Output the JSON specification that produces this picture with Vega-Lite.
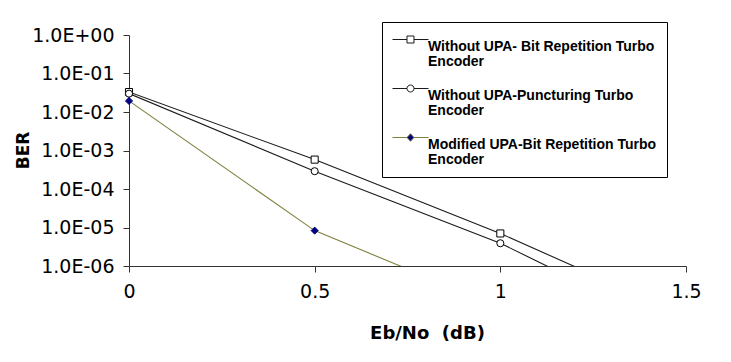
{
  "$schema": "https://vega.github.io/schema/vega-lite/v6.json",
  "autosize": {"type": "none"},
  "width": 557,
  "height": 231,
  "padding": {"left": 129, "top": 35, "right": 45, "bottom": 96},
  "background": "#ffffff",
  "config": {
    "view": {"stroke": null},
    "font": "Liberation Sans",
    "legend": {
      "orient": "none", "legendX": 253, "legendY": -13,
      "title": null,
      "strokeColor": "#000", "fillColor": "#fff", "padding": 10,
      "symbolSize": 196, "symbolStrokeWidth": 1,
      "labelFont": "Liberation Sans", "labelFontSize": 14, "labelFontWeight": "bold", "labelColor": "#000",
      "labelLimit": 400, "labelOffset": 21, "rowPadding": 12
    }
  },
  "data": {
    "values": [
      {"series": "Without UPA- Bit Repetition Turbo Encoder", "ebno": 0, "ber": 0.033},
      {"series": "Without UPA- Bit Repetition Turbo Encoder", "ebno": 0.5, "ber": 0.00058},
      {"series": "Without UPA- Bit Repetition Turbo Encoder", "ebno": 1, "ber": 0.000007},
      {"series": "Without UPA- Bit Repetition Turbo Encoder", "ebno": 1.5, "ber": 0.00000005},
      {"series": "Without UPA-Puncturing Turbo Encoder", "ebno": 0, "ber": 0.030},
      {"series": "Without UPA-Puncturing Turbo Encoder", "ebno": 0.5, "ber": 0.00029},
      {"series": "Without UPA-Puncturing Turbo Encoder", "ebno": 1, "ber": 0.0000039},
      {"series": "Without UPA-Puncturing Turbo Encoder", "ebno": 1.5, "ber": 0.000000017},
      {"series": "Modified UPA-Bit Repetition Turbo Encoder", "ebno": 0, "ber": 0.0194},
      {"series": "Modified UPA-Bit Repetition Turbo Encoder", "ebno": 0.5, "ber": 0.0000083},
      {"series": "Modified UPA-Bit Repetition Turbo Encoder", "ebno": 1, "ber": 0.000000084}
    ]
  },
  "encoding": {
    "x": {
      "field": "ebno", "type": "quantitative",
      "scale": {"domain": [0, 1.5], "nice": false, "zero": false},
      "axis": {
        "values": [0, 0.5, 1, 1.5], "grid": false, "format": "~g",
        "title": "Eb/No\u00a0\u00a0(dB)", "titleFont": "DejaVu Sans", "titleFontSize": 18, "titleFontWeight": "bold", "titleColor": "#000",
        "titleX": 298, "titleY": 67, "titleBaseline": "middle", "titleAlign": "center",
        "labelFont": "DejaVu Sans", "labelFontSize": 19, "labelColor": "#000", "labelPadding": 10,
        "labelFlush": false,
        "domainColor": "#333", "tickColor": "#333", "tickSize": 6
      }
    },
    "y": {
      "field": "ber", "type": "quantitative",
      "scale": {"type": "log", "domain": [0.000001, 1], "nice": false},
      "axis": {
        "values": [0.000001, 0.00001, 0.0001, 0.001, 0.01, 0.1, 1], "grid": false,
        "labelExpr": "'1.0E' + (datum.value < 0.5 ? '-' : '+') + (abs(round(log(datum.value)/LN10)) < 10 ? '0' : '') + abs(round(log(datum.value)/LN10))",
        "title": "BER", "titleFont": "DejaVu Sans", "titleFontSize": 17, "titleFontWeight": "bold", "titleColor": "#000",
        "titleX": -106, "titleY": 115, "titleBaseline": "middle", "titleAlign": "center", "titleAngle": -90,
        "labelFont": "DejaVu Sans", "labelFontSize": 19, "labelColor": "#000", "labelPadding": 9,
        "labelFlush": false,
        "domainColor": "#333", "tickColor": "#333", "tickSize": 6
      }
    }
  },
  "layer": [
    {
      "mark": {"type": "line", "clip": true, "strokeWidth": 1.1},
      "encoding": {
        "color": {
          "field": "series", "type": "nominal",
          "scale": {
            "domain": ["Without UPA- Bit Repetition Turbo Encoder", "Without UPA-Puncturing Turbo Encoder", "Modified UPA-Bit Repetition Turbo Encoder"],
            "range": ["#1a1a1a", "#1a1a1a", "#80803f"]
          },
          "legend": {
            "labelExpr": "[replace(datum.label, ' Encoder', ''), 'Encoder']",
            "encode": {
              "labels": {
                "update": {
                  "dy": {"value": 7.5},
                  "lineHeight": {"value": 15}
                }
              },
              "symbols": {
                "update": {
                  "shape": {"signal": "datum.value === 'Without UPA- Bit Repetition Turbo Encoder' ? 'M-1,0H1.071M2.071,0H4.143M1.071,-0.5H2.071V0.5H1.071Z' : datum.value === 'Without UPA-Puncturing Turbo Encoder' ? 'M-1,0H1.071M2.071,0H4.143M1.071,0A0.5,0.5 0 1,0 2.071,0A0.5,0.5 0 1,0 1.071,0Z' : 'M-1,0H1.071M2.071,0H4.143M1.071,0L1.571,-0.55L2.071,0L1.571,0.55Z'"},
                  "fill": {"signal": "datum.value === 'Modified UPA-Bit Repetition Turbo Encoder' ? '#000080' : '#ffffff'"},
                  "strokeWidth": {"value": 1},
                  "opacity": {"value": 1}
                }
              }
            }
          }
        }
      }
    },
    {
      "transform": [{"filter": "datum.ber >= 0.000001"}],
      "mark": {"type": "point", "filled": true, "strokeWidth": 1, "opacity": 1, "size": 50},
      "encoding": {
        "shape": {
          "field": "series", "type": "nominal",
          "scale": {
            "domain": ["Modified UPA-Bit Repetition Turbo Encoder", "Without UPA- Bit Repetition Turbo Encoder", "Without UPA-Puncturing Turbo Encoder"],
            "range": ["diamond", "square", "circle"]
          },
          "legend": null
        },
        "fill": {
          "field": "series", "type": "nominal",
          "scale": {
            "domain": ["Modified UPA-Bit Repetition Turbo Encoder", "Without UPA- Bit Repetition Turbo Encoder", "Without UPA-Puncturing Turbo Encoder"],
            "range": ["#000080", "#ffffff", "#ffffff"]
          },
          "legend": null
        },
        "stroke": {
          "field": "series", "type": "nominal",
          "scale": {
            "domain": ["Modified UPA-Bit Repetition Turbo Encoder", "Without UPA- Bit Repetition Turbo Encoder", "Without UPA-Puncturing Turbo Encoder"],
            "range": ["#000080", "#000000", "#000000"]
          },
          "legend": null
        }
      }
    }
  ]
}
